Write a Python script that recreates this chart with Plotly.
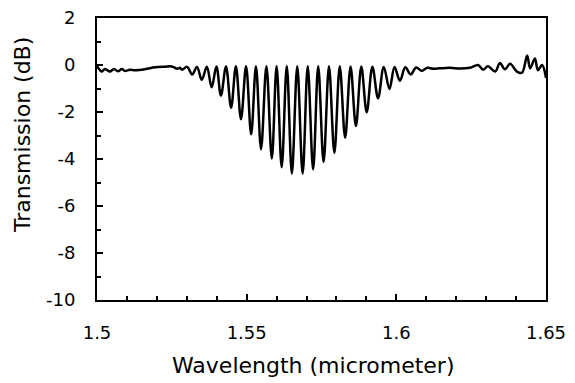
import plotly.graph_objects as go

# Wavelength (micrometer) and transmission (dB)
wavelength = [
    1.5000, 1.5010, 1.5016, 1.5027, 1.5043, 1.5057, 1.5070, 1.5083, 1.5093,
    1.5110, 1.5127, 1.5160, 1.5194, 1.5227, 1.5250, 1.5268, 1.5277, 1.5284,
    1.5301, 1.5318, 1.5334, 1.5350, 1.5367, 1.5383, 1.5399, 1.5414, 1.5431,
    1.5448, 1.5464, 1.5481, 1.5498, 1.5515, 1.5531, 1.5548, 1.5566, 1.5584,
    1.5600, 1.5617, 1.5634, 1.5651, 1.5669, 1.5687, 1.5704, 1.5722, 1.5739,
    1.5757, 1.5775, 1.5793, 1.5811, 1.5829, 1.5847, 1.5865, 1.5883, 1.5901,
    1.5920, 1.5939, 1.5958, 1.5977, 1.5994, 1.6012, 1.6030, 1.6048, 1.6066,
    1.6085, 1.6104, 1.6123, 1.6146, 1.6179, 1.6213, 1.6246, 1.6273, 1.6290,
    1.6306, 1.6330, 1.6346, 1.6363, 1.6380, 1.6403, 1.6420, 1.6437, 1.6447,
    1.6463, 1.6473, 1.6487, 1.6500,
]
transmission = [
    -0.05, -0.22, -0.28, -0.17, -0.28, -0.17, -0.27, -0.17, -0.25,
    -0.20, -0.22, -0.18, -0.10, -0.07, -0.06, -0.16, -0.12, -0.20,
    -0.08, -0.40, -0.08, -0.63, -0.07, -0.95, -0.06, -1.30, -0.06,
    -1.82, -0.05, -2.31, -0.05, -2.95, -0.05, -3.58, -0.05, -3.98,
    -0.05, -4.35, -0.05, -4.62, -0.05, -4.62, -0.05, -4.44, -0.05,
    -4.12, -0.05, -3.74, -0.05, -3.10, -0.06, -2.60, -0.06, -2.01,
    -0.07, -1.42, -0.08, -1.02, -0.09, -0.67, -0.10, -0.40, -0.11,
    -0.25, -0.12, -0.16, -0.14, -0.12, -0.15, -0.12, 0.00, -0.20,
    -0.05, -0.28, 0.08, -0.18, 0.05, -0.28, -0.33, 0.40, -0.14,
    0.28, -0.22, 0.00, -0.55,
]

x_tick_vals = [1.5, 1.55, 1.6, 1.65]
x_tick_text = ["1.5", "1.55", "1.6", "1.65"]
y_tick_vals = [2, 0, -2, -4, -6, -8, -10]
y_tick_text = ["2", "0", "-2", "-4", "-6", "-8", "-10"]

fig = go.Figure()
fig.add_trace(go.Scatter(
    x=wavelength, y=transmission, mode="lines",
    line=dict(color="black", width=2.5, shape="spline", smoothing=1.0),
    showlegend=False, hoverinfo="skip",
))

font = dict(family="DejaVu Sans", size=18, color="black")
axis_common = dict(
    showline=True, linewidth=2, linecolor="black", mirror=True,
    showgrid=False, zeroline=False, ticks="inside", ticklen=6,
    tickwidth=1.5, tickcolor="black", tickfont=font, automargin=False,
    ticklabeloverflow="allow",
)
fig.update_xaxes(
    range=[1.5, 1.65], tickvals=x_tick_vals, ticktext=x_tick_text,
    ticklabelstandoff=15,
    minor=dict(dtick=0.01, ticks="inside", ticklen=4, tickwidth=1.5, tickcolor="black"),
    **axis_common,
)
fig.update_yaxes(
    range=[-10, 2], tickvals=y_tick_vals, ticktext=y_tick_text,
    ticklabelstandoff=16,
    minor=dict(dtick=1, ticks="inside", ticklen=4, tickwidth=1.5, tickcolor="black"),
    **axis_common,
)

title_font = dict(family="DejaVu Sans", size=22, color="black")
fig.add_annotation(text="Wavelength (micrometer)", xref="paper", yref="paper",
                   x=0.483, y=-0.234, xanchor="center", yanchor="middle",
                   showarrow=False, font=title_font)
fig.add_annotation(text="Transmission (dB)", xref="paper", yref="paper",
                   x=-0.167, y=0.585, xanchor="center", yanchor="middle",
                   textangle=-90, showarrow=False, font=title_font)

# the page body adds an 8 px offset, so the figure is sized to fit
fig.update_layout(
    width=567, height=375,
    margin=dict(l=89, r=29, t=10, b=83, autoexpand=False),
    plot_bgcolor="white", paper_bgcolor="white",
)

fig.write_html("out.html")
